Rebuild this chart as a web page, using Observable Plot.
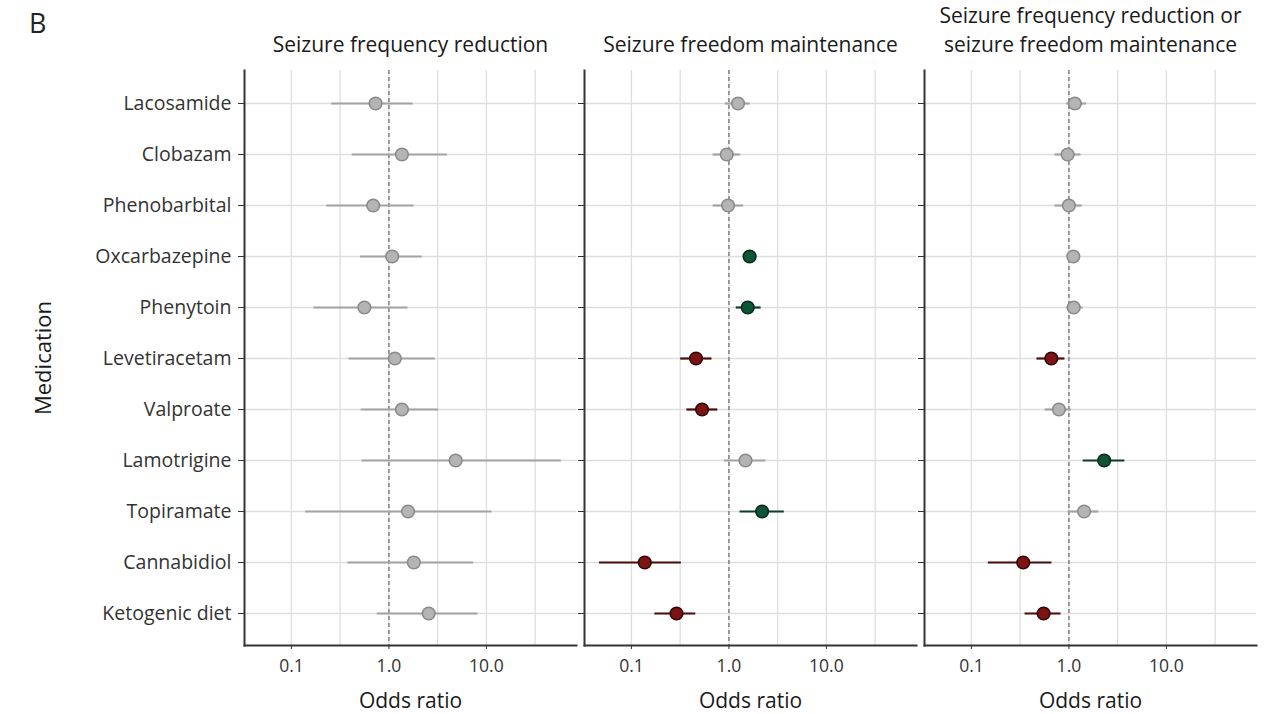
<!DOCTYPE html>
<html><head><meta charset="utf-8">
<script src="https://cdn.jsdelivr.net/npm/d3@7"></script>
<script src="https://cdn.jsdelivr.net/npm/@observablehq/plot@0.6"></script>
<style>
body{margin:0;background:#fff;font-family:"Open Sans",sans-serif;}
#wrap{position:relative;width:1287px;height:714px;}
#tag{position:absolute;left:29px;top:4px;font-size:27px;color:#222;font-family:"Open Sans",sans-serif;}
</style></head><body>
<div id="wrap"><div id="tag">B</div><div id="chart"></div></div>
<script>
const medications = ["Lacosamide","Clobazam","Phenobarbital","Oxcarbazepine","Phenytoin","Levetiracetam","Valproate","Lamotrigine","Topiramate","Cannabidiol","Ketogenic diet"];
const outcomes = ["Seizure frequency reduction","Seizure freedom maintenance","Seizure frequency reduction or\nseizure freedom maintenance"];

const reductionOR   = [0.73,1.36,0.69,1.08,0.56,1.15,1.36,4.84,1.57,1.80,2.56];
const reductionLow  = [0.26,0.42,0.23,0.51,0.17,0.39,0.52,0.53,0.14,0.38,0.76];
const reductionHigh = [1.77,3.98,1.81,2.19,1.57,3.00,3.24,58.6,11.4,7.40,8.20];

const freedomOR   = [1.24,0.95,0.98,1.63,1.56,0.46,0.53,1.48,2.19,0.137,0.29];
const freedomLow  = [0.92,0.69,0.69,1.45,1.19,0.32,0.37,0.90,1.30,0.047,0.174];
const freedomHigh = [1.65,1.31,1.41,1.82,2.14,0.67,0.77,2.40,3.70,0.325,0.457];

const eitherOR   = [1.15,0.97,1.00,1.11,1.12,0.66,0.79,2.30,1.43,0.34,0.55];
const eitherLow  = [0.95,0.72,0.72,0.98,0.95,0.47,0.57,1.40,0.98,0.149,0.355];
const eitherHigh = [1.52,1.33,1.37,1.25,1.40,0.91,1.06,3.75,2.03,0.67,0.83];

const xTicks = [0.1, 1, 10];
const xGrid = [0.1, 0.316, 1, 3.16, 10, 31.6];

const series = [[reductionOR,reductionLow,reductionHigh],[freedomOR,freedomLow,freedomHigh],[eitherOR,eitherLow,eitherHigh]];
const rows = [];
series.forEach(([o,l,h],k) => medications.forEach((m,i) => rows.push({outcome: outcomes[k], med: m, or: o[i], lo: l[i], hi: h[i]})));

const effect = d => d.lo > 1 ? "up" : d.hi < 1 ? "down" : "ns";
const fills = {up:"#0f5535", down:"#7d1414", ns:"#b4b4b4"};
const strokes = {up:"#082a1a", down:"#320606", ns:"#8a8a8a"};
const lines = {up:"#113d28", down:"#4a0c0c", ns:"#a3a3a3"};

const chart = Plot.plot({
  width: 1287, height: 714,
  marginLeft: 243, marginRight: 30, marginTop: 70, marginBottom: 69,
  style: {fontFamily: "Open Sans, sans-serif", fontSize: "16px", color: "#333", background: "white"},
  x: {type: "log", domain: [0.033, 84], axis: null},
  y: {type: "point", domain: medications, padding: 0.6, axis: null},
  fx: {domain: outcomes, paddingInner: 0.0235, paddingOuter: 0, axis: null},
  marks: [
    Plot.gridX(xGrid, {stroke: "#dedede", strokeOpacity: 1, strokeWidth: 1.3}),
    Plot.gridY({stroke: "#dedede", strokeOpacity: 1, strokeWidth: 1.3}),
    Plot.ruleX([1], {stroke: "#7a7a7a", strokeDasharray: "4,3", strokeWidth: 1.4}),
    Plot.ruleY(rows, {fx: "outcome", y: "med", x1: "lo", x2: "hi", stroke: d => lines[effect(d)], strokeWidth: 2.2}),
    Plot.dot(rows, {fx: "outcome", x: "or", y: "med", r: 6.3, fill: d => fills[effect(d)], stroke: d => strokes[effect(d)], strokeWidth: 1.6}),
    Plot.frame({anchor: "left", stroke: "#333", strokeWidth: 2}),
    Plot.frame({anchor: "bottom", stroke: "#333", strokeWidth: 2}),
    Plot.axisY({facetAnchor: null, tickSize: 6, tickFormat: () => "", label: null, stroke: "#333"}),
    Plot.axisY({tickSize: 6, tickPadding: 7, fontSize: 19.5, fill: "#333", label: null}),
    Plot.axisX({ticks: xTicks, tickFormat: d3.format(".1f"), tickSize: 4, tickPadding: 10, fontSize: 17.5, fill: "#333", label: null}),
    Plot.axisFx({anchor: "top", tickSize: 0, tickPadding: 19, fontSize: 21, fill: "#1a1a1a", label: null, lineHeight: 1.38}),
    Plot.text(outcomes, {fx: d => d, text: () => "Odds ratio", frameAnchor: "bottom", dy: 62, fontSize: 21, fill: "#1a1a1a"}),
    Plot.text([outcomes[0]], {fx: d => d, text: () => "Medication", frameAnchor: "left", textAnchor: "middle", rotate: -90, dx: -201, fontSize: 22, fill: "#1a1a1a"})
  ]
});
document.getElementById("chart").appendChild(chart);
</script>
</body></html>
